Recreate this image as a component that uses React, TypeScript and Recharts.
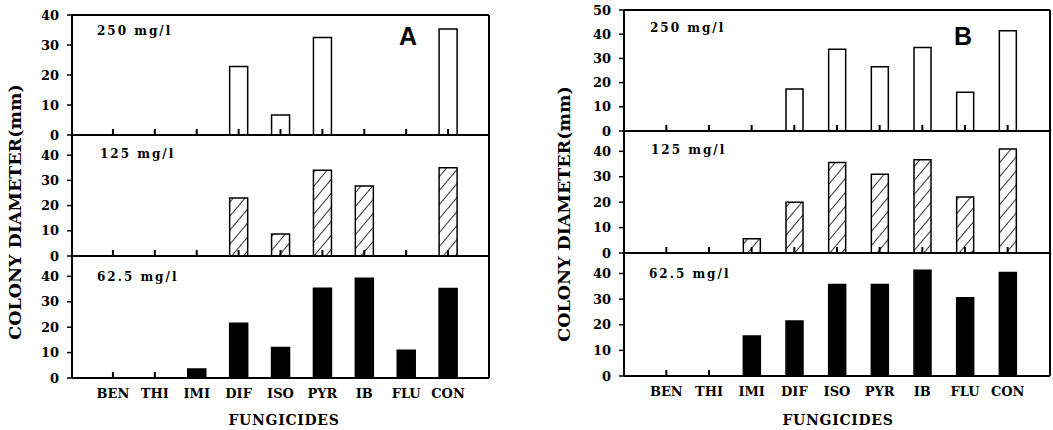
import React from 'react';
import { BarChart, Bar, XAxis, YAxis, CartesianGrid } from 'recharts';

const categories = ['BEN', 'THI', 'IMI', 'DIF', 'ISO', 'PYR', 'IB', 'FLU', 'CON'];

const a250 = [0, 0, 0, 22.8, 6.7, 32.5, 0, 0, 35.3];
const a125 = [0, 0, 0, 23, 8.7, 34, 27.8, 0, 35];
const a62 = [0, 0, 3.5, 21.5, 12, 35.3, 39.2, 10.9, 35.2];

const b250 = [0, 0, 0, 17.4, 33.8, 26.6, 34.5, 16, 41.4];
const b125 = [0, 0, 5.6, 20, 35.6, 31, 36.7, 22, 40.9];
const b62 = [0, 0, 15.6, 21.5, 35.7, 35.7, 41.3, 30.5, 40.4];

const ticks40 = [0, 10, 20, 30, 40];
const ticks50 = [0, 10, 20, 30, 40, 50];

const concLabels = ['250 mg/l', '125 mg/l', '62.5 mg/l'];
const yLabel = 'COLONY DIAMETER(mm)';
const xLabel = 'FUNGICIDES';

const SERIF = '"DejaVu Serif", serif';

function build(values: number[]) {
  return categories.map((c, i) => ({ name: c, v: values[i] }));
}

function makeXTick(show: boolean) {
  return function XTick(props: any) {
    const { x, y, payload } = props;
    return (
      <g>
        <path d={`M${x},${y}L${x},${y - 6}`} stroke="#000" strokeWidth={2} fill="none" />
        {show ? (
          <text
            x={x}
            y={y + 15}
            textAnchor="middle"
            dominantBaseline="central"
            fontFamily={SERIF}
            fontWeight="bold"
            fontSize={13}
            fill="#000"
          >
            {payload.value}
          </text>
        ) : null}
      </g>
    );
  };
}

const tickWithLabel = makeXTick(true);
const tickNoLabel = makeXTick(false);

type PanelProps = {
  left: number;
  top: number;
  bottom: number;
  width: number;
  values: number[];
  domain: [number, number];
  ticks: number[];
  fill: string;
  showLabels: boolean;
  pad: number;
  barSize: number;
};

function Panel({ left, top, bottom, width, values, domain, ticks, fill, showLabels, pad, barSize }: PanelProps) {
  const mt = 10;
  const xh = 20;
  const mb = showLabels ? 20 : 0;
  const yw = 60;
  const mr = 4;
  const h = bottom - top;
  return (
    <div style={{ position: 'absolute', left: left - yw, top: top - mt }}>
      <BarChart
        width={yw + width + mr}
        height={h + mt + mb + xh}
        data={build(values)}
        margin={{ top: mt, right: mr, bottom: mb, left: 0 }}
      >
        <CartesianGrid
          stroke="#000"
          strokeWidth={2}
          horizontalCoordinatesGenerator={({ offset }: any) => [offset.top]}
          verticalCoordinatesGenerator={({ offset }: any) => [offset.left + offset.width]}
        />
        <Bar dataKey="v" fill={fill} stroke="#000" strokeWidth={1.5} barSize={barSize} isAnimationActive={false} />
        <XAxis
          dataKey="name"
          height={xh}
          padding={{ left: pad, right: pad }}
          axisLine={{ stroke: '#000', strokeWidth: 2 }}
          tickLine={false}
          tickSize={0}
          tickMargin={0}
          interval={0}
          tick={showLabels ? tickWithLabel : tickNoLabel}
        />
        <YAxis
          width={yw}
          domain={domain}
          ticks={ticks}
          interval={0}
          allowDataOverflow
          axisLine={{ stroke: '#000', strokeWidth: 2 }}
          tickLine={{ stroke: '#000', strokeWidth: 1.5 }}
          tickSize={5}
          tickMargin={8}
          tick={{ fontFamily: SERIF, fontWeight: 'bold', fontSize: 13, fill: '#000' }}
        />
      </BarChart>
    </div>
  );
}

const textBase: React.CSSProperties = {
  position: 'absolute',
  fontFamily: SERIF,
  fontWeight: 'bold',
  color: '#000',
  whiteSpace: 'nowrap',
  lineHeight: 1,
};

function Conc({ x, y, text }: { x: number; y: number; text: string }) {
  return (
    <div style={{ ...textBase, left: x, top: y, fontSize: 12, letterSpacing: 2, transform: 'translateY(-50%)' }}>
      {text}
    </div>
  );
}

export default function App() {
  const aL = 72, aW = 417, aPad = 20;
  const bL = 624, bW = 426, bPad = 21;
  return (
    <div style={{ position: 'absolute', left: 0, top: 0, width: 1053, height: 430, background: '#fff', overflow: 'hidden' }}>
      <svg width={0} height={0} style={{ position: 'absolute' }}>
        <defs>
          <pattern id="hatch" patternUnits="userSpaceOnUse" width={9} height={9} patternTransform="rotate(40)">
            <rect width={9} height={9} fill="#fff" />
            <line x1={0} y1={0} x2={0} y2={9} stroke="#000" strokeWidth={1.6} />
          </pattern>
        </defs>
      </svg>

      {/* Panel A */}
      <Panel left={aL} top={15} bottom={135} width={aW} values={a250} domain={[0, 40]} ticks={ticks40} fill="#fff" showLabels={false} pad={aPad} barSize={18} />
      <Panel left={aL} top={135} bottom={256} width={aW} values={a125} domain={[0, 48]} ticks={ticks40} fill="url(#hatch)" showLabels={false} pad={aPad} barSize={18} />
      <Panel left={aL} top={256} bottom={378} width={aW} values={a62} domain={[0, 48]} ticks={ticks40} fill="#000" showLabels={true} pad={aPad} barSize={18} />

      {/* Panel B */}
      <Panel left={bL} top={10} bottom={131} width={bW} values={b250} domain={[0, 50]} ticks={ticks50} fill="#fff" showLabels={false} pad={bPad} barSize={17} />
      <Panel left={bL} top={131} bottom={253} width={bW} values={b125} domain={[0, 48]} ticks={ticks40} fill="url(#hatch)" showLabels={false} pad={bPad} barSize={17} />
      <Panel left={bL} top={253} bottom={376} width={bW} values={b62} domain={[0, 48]} ticks={ticks40} fill="#000" showLabels={true} pad={bPad} barSize={17} />

      <Conc x={97} y={31} text={concLabels[0]} />
      <Conc x={100} y={154} text={concLabels[1]} />
      <Conc x={97} y={277} text={concLabels[2]} />
      <Conc x={650} y={28} text={concLabels[0]} />
      <Conc x={651} y={150} text={concLabels[1]} />
      <Conc x={649} y={274} text={concLabels[2]} />

      <div style={{ ...textBase, fontFamily: '"Liberation Sans", Arial, sans-serif', fontSize: 25, left: 408, top: 36, transform: 'translate(-50%,-50%)' }}>A</div>
      <div style={{ ...textBase, fontFamily: '"Liberation Sans", Arial, sans-serif', fontSize: 25, left: 963, top: 36, transform: 'translate(-50%,-50%)' }}>B</div>

      <div style={{ ...textBase, fontSize: 17.5, left: 16, top: 212, transform: 'translate(-50%,-50%) rotate(-90deg)' }}>{yLabel}</div>
      <div style={{ ...textBase, fontSize: 17.5, left: 565, top: 214, transform: 'translate(-50%,-50%) rotate(-90deg)' }}>{yLabel}</div>

      <div style={{ ...textBase, fontSize: 14, letterSpacing: 0.7, left: 284, top: 420, transform: 'translate(-50%,-50%)' }}>{xLabel}</div>
      <div style={{ ...textBase, fontSize: 14, letterSpacing: 0.7, left: 838, top: 420, transform: 'translate(-50%,-50%)' }}>{xLabel}</div>
    </div>
  );
}
